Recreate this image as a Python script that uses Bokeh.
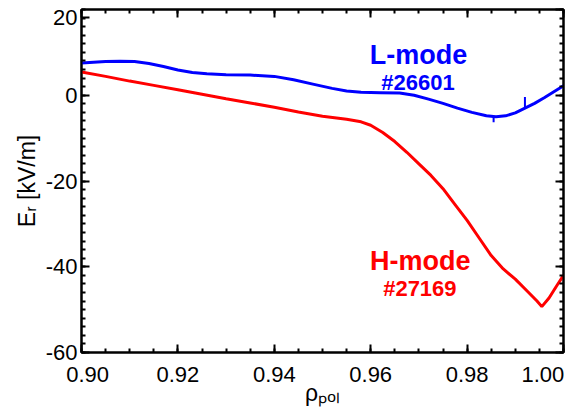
import numpy as np
from bokeh.plotting import figure
from bokeh.models import (Range1d, LinearAxis, FixedTicker, Label, CustomJSTickFormatter)
from bokeh.embed import file_html
from bokeh.resources import INLINE

# ---- data ----
l_rho = [0.900, 0.9025, 0.905, 0.908, 0.911, 0.914, 0.917, 0.920, 0.923, 0.926,
         0.930, 0.935, 0.940, 0.944, 0.948, 0.952, 0.955, 0.958, 0.962, 0.966,
         0.969, 0.972, 0.975, 0.978, 0.981, 0.984, 0.986, 0.988, 0.990, 0.992,
         0.994, 0.996, 0.998, 1.000]
l_er = [7.5, 7.7, 7.85, 7.95, 7.85, 7.4, 6.7, 5.9, 5.3, 5.0,
        4.8, 4.7, 4.4, 3.6, 2.6, 1.6, 1.0, 0.7, 0.6, 0.5,
        0.0, -0.9, -1.9, -3.0, -4.0, -4.8, -5.0, -4.8, -4.1, -3.0,
        -1.9, -0.6, 0.8, 2.2]
l_spike_rho = [0.9855, 0.9920]
l_spike_lo = [-6.3, -2.8]
l_spike_hi = [-4.9, -0.4]

h_rho = [0.900, 0.905, 0.910, 0.915, 0.920, 0.925, 0.930, 0.935, 0.940, 0.945,
         0.950, 0.955, 0.958, 0.960, 0.9625, 0.965, 0.9675, 0.970, 0.9725, 0.975,
         0.9775, 0.980, 0.9825, 0.985, 0.9875, 0.990, 0.9925, 0.9945, 0.9955, 0.997,
         0.9985, 1.000]
h_er = [5.4, 4.4, 3.3, 2.3, 1.3, 0.25, -0.8, -1.8, -2.8, -3.9,
        -4.9, -5.6, -6.2, -7.0, -8.7, -10.8, -13.3, -16.0, -18.7, -21.8,
        -25.5, -29.2, -33.3, -37.4, -40.5, -42.9, -45.7, -48.0, -49.3, -47.3,
        -44.6, -42.0]

x_ticks = [0.90, 0.92, 0.94, 0.96, 0.98, 1.00]
y_ticks = [-60, -40, -20, 0, 20]
x_title = "\u03c1\u209a\u2092\u2097"          # rho_pol
y_title = "E\u1d63 [kV/m]"                     # E_r [kV/m]

FONT = "Liberation Sans"
BLUE = "#0000FF"
RED = "#FF0000"

Y_MIN, Y_MAX = -60, 20
p = figure(width=576, height=408, x_range=Range1d(0.90, 1.00), y_range=Range1d(Y_MIN, Y_MAX),
           output_backend="svg", toolbar_location=None,
           min_border_left=81, min_border_right=13, min_border_top=9, min_border_bottom=56)
p.grid.visible = False
p.outline_line_color = "black"
p.outline_line_width = 2
p.background_fill_color = "white"
p.border_fill_color = "white"

x_minor = [round(v, 3) for v in np.arange(0.90, 1.0001, 0.005)]
y_minor = list(range(Y_MIN, Y_MAX + 1, 2))
xt = FixedTicker(ticks=x_ticks, minor_ticks=x_minor)
yt = FixedTicker(ticks=y_ticks, minor_ticks=y_minor)
# on the left axis the topmost label is drawn a little below the frame's top
# edge (as in the reference) so that it stays inside the canvas
TOP_NUDGE = 1.8
yt_left = FixedTicker(ticks=[t if t < Y_MAX else t - TOP_NUDGE for t in y_ticks],
                      minor_ticks=y_minor)


def style_axis(ax, show_labels):
    ax.axis_line_width = 2
    ax.axis_line_color = "black"
    ax.major_tick_in = 8
    ax.major_tick_out = 0
    ax.minor_tick_in = 4
    ax.minor_tick_out = 0
    ax.major_tick_line_width = 2
    ax.minor_tick_line_width = 2
    ax.major_tick_line_color = "black"
    ax.minor_tick_line_color = "black"
    ax.major_label_text_font = FONT
    ax.major_label_text_font_size = "22px"
    ax.major_label_text_color = "black"
    ax.axis_label_text_font = FONT
    ax.axis_label_text_font_style = "normal"
    ax.axis_label_text_color = "black"
    if not show_labels:
        ax.formatter = CustomJSTickFormatter(code="return ''")
        ax.major_label_standoff = 0


xa = p.xaxis[0]
xa.ticker = xt
# end labels are nudged inward (as in the reference) with no-break spaces
xa.formatter = CustomJSTickFormatter(code="""
const s = tick.toFixed(2);
const pad = '\\u00a0\\u00a0';
if (tick < 0.905) return pad + s;
if (tick > 0.995) return s + pad;
return s;
""")
style_axis(xa, True)
xa.major_label_standoff = 9
xa.axis_label = x_title
xa.axis_label_text_font_size = "23px"
xa.axis_label_standoff = -10

ya = p.yaxis[0]
ya.ticker = yt_left
ya.formatter = CustomJSTickFormatter(
    args=dict(top=Y_MAX), code="return tick > top - 5 ? top.toFixed(0) : tick.toFixed(0)")
style_axis(ya, True)
ya.major_label_standoff = 4
ya.axis_label = y_title
ya.axis_label_text_font_size = "23px"
ya.axis_label_standoff = 3

top = LinearAxis(ticker=xt)
style_axis(top, False)
p.add_layout(top, "above")
right = LinearAxis(ticker=yt)
style_axis(right, False)
p.add_layout(right, "right")

p.line(h_rho, h_er, line_color=RED, line_width=3)
p.line(l_rho, l_er, line_color=BLUE, line_width=3)
p.segment(x0=l_spike_rho, y0=l_spike_lo, x1=l_spike_rho, y1=l_spike_hi,
          line_color=BLUE, line_width=2)

# curve annotations
for txt, x, y, size, col in [("L-mode", 0.9699, 9.3, "27px", BLUE),
                             ("#26601", 0.9698, 2.9, "22px", BLUE),
                             ("H-mode", 0.9703, -38.7, "27px", RED),
                             ("#27169", 0.9702, -45.1, "22px", RED)]:
    p.add_layout(Label(x=x, y=y, text=txt, text_font=FONT, text_font_size=size,
                       text_font_style="bold", text_color=col,
                       text_align="center", text_baseline="alphabetic"))

open("out.html", "w").write(file_html(p, INLINE))
